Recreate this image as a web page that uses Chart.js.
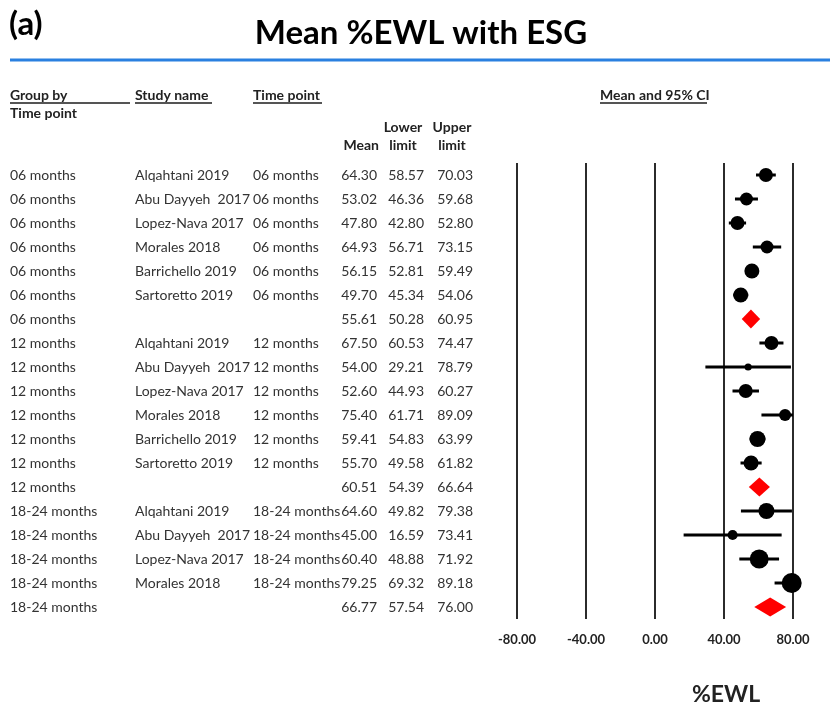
<!DOCTYPE html>
<html>
<head>
<meta charset="utf-8">
<script src="https://cdn.jsdelivr.net/npm/chart.js@4.4.0/dist/chart.umd.min.js"></script>
<style>
  body { margin: 0; background: #fff; }
  canvas { display: block; }
</style>
</head>
<body>
<canvas id="chart" width="830" height="708"></canvas>
<script>
// table rows, top to bottom (summary rows have no study name)
var groups = ['06 months', '06 months', '06 months', '06 months', '06 months', '06 months', '06 months',
  '12 months', '12 months', '12 months', '12 months', '12 months', '12 months', '12 months',
  '18-24 months', '18-24 months', '18-24 months', '18-24 months', '18-24 months'];
var studies = ['Alqahtani 2019', 'Abu Dayyeh  2017', 'Lopez-Nava 2017', 'Morales 2018', 'Barrichello 2019', 'Sartoretto 2019', '',
  'Alqahtani 2019', 'Abu Dayyeh  2017', 'Lopez-Nava 2017', 'Morales 2018', 'Barrichello 2019', 'Sartoretto 2019', '',
  'Alqahtani 2019', 'Abu Dayyeh  2017', 'Lopez-Nava 2017', 'Morales 2018', ''];
var timePoints = ['06 months', '06 months', '06 months', '06 months', '06 months', '06 months', '',
  '12 months', '12 months', '12 months', '12 months', '12 months', '12 months', '',
  '18-24 months', '18-24 months', '18-24 months', '18-24 months', ''];
var means = [64.30, 53.02, 47.80, 64.93, 56.15, 49.70, 55.61,
  67.50, 54.00, 52.60, 75.40, 59.41, 55.70, 60.51,
  64.60, 45.00, 60.40, 79.25, 66.77];
var lowerLimits = [58.57, 46.36, 42.80, 56.71, 52.81, 45.34, 50.28,
  60.53, 29.21, 44.93, 61.71, 54.83, 49.58, 54.39,
  49.82, 16.59, 48.88, 69.32, 57.54];
var upperLimits = [70.03, 59.68, 52.80, 73.15, 59.49, 54.06, 60.95,
  74.47, 78.79, 60.27, 89.09, 63.99, 61.82, 66.64,
  79.38, 73.41, 71.92, 89.18, 76.00];
// relative study weights, null for summaries
var weights = [19, 16.5, 19, 16.5, 22, 22, null,
  19, 5, 19, 14, 25, 22, null,
  25, 10, 35, 39, null];

var font = 'Lato, "Open Sans", sans-serif';

var pointData = [], pointRadius = [], ciData = [], diamondSets = [];
for (var i = 0; i < means.length; i++) {
  if (studies[i]) {
    pointData.push({x: means[i], y: i});
    pointRadius.push(1.6 * Math.sqrt(weights[i]));
    ciData.push({x: lowerLimits[i], y: i}, {x: upperLimits[i], y: i}, {x: null, y: null});
  } else {
    diamondSets.push({
      type: 'line',
      data: [{x: lowerLimits[i], y: i}, {x: means[i], y: i - 0.4}, {x: upperLimits[i], y: i},
             {x: means[i], y: i + 0.4}, {x: lowerLimits[i], y: i}],
      showLine: true,
      borderWidth: 0,
      borderColor: 'red',
      backgroundColor: '#ff0000',
      fill: 'shape',
      pointRadius: 0,
      tension: 0,
      clip: false
    });
  }
}

var tablePlugin = {
  id: 'table',
  afterDraw: function (chart) {
    var ctx = chart.ctx, y = chart.scales.y;
    ctx.save();
    ctx.textBaseline = 'middle';
    ctx.fillStyle = '#000';
    ctx.font = 'bold 33px ' + font;
    ctx.textAlign = 'left';
    ctx.fillText('(a)', 9, 24);
    ctx.font = 'bold 33px ' + font;
    ctx.textAlign = 'center';
    ctx.fillText('Mean %EWL with ESG', 421, 33);
    ctx.strokeStyle = '#2a80e0';
    ctx.lineWidth = 3;
    ctx.beginPath(); ctx.moveTo(10, 60); ctx.lineTo(830, 60); ctx.stroke();

    ctx.font = 'bold 14px ' + font;
    ctx.fillStyle = '#222';
    ctx.textAlign = 'left';
    ctx.fillText('Group by', 10, 95);
    ctx.fillText('Time point', 10, 113);
    ctx.fillText('Study name', 135, 95);
    ctx.fillText('Time point', 253, 95);
    ctx.fillText('Mean and 95% CI', 600, 95);
    ctx.strokeStyle = '#555';
    ctx.lineWidth = 2;
    [[10, 130], [135, 212], [253, 322], [600, 707]].forEach(function (u) {
      ctx.beginPath(); ctx.moveTo(u[0], 103); ctx.lineTo(u[1], 103); ctx.stroke();
    });
    ctx.textAlign = 'center';
    ctx.fillText('Lower', 403, 127);
    ctx.fillText('Upper', 452, 127);
    ctx.fillText('limit', 403, 145);
    ctx.fillText('limit', 452, 145);
    ctx.textAlign = 'right';
    ctx.fillText('Mean', 379, 145);

    ctx.font = '14px ' + font;
    ctx.fillStyle = '#333';
    for (var i = 0; i < means.length; i++) {
      var py = y.getPixelForValue(i);
      ctx.textAlign = 'left';
      ctx.fillText(groups[i], 10, py);
      ctx.fillText(studies[i], 135, py);
      ctx.fillText(timePoints[i], 253, py);
      ctx.textAlign = 'right';
      ctx.fillText(means[i].toFixed(2), 377, py);
      ctx.fillText(lowerLimits[i].toFixed(2), 424, py);
      ctx.fillText(upperLimits[i].toFixed(2), 473, py);
    }

    ctx.font = 'bold 23px ' + font;
    ctx.fillStyle = '#222';
    ctx.textAlign = 'center';
    ctx.fillText('%EWL', 726, 695);
    ctx.restore();
  }
};

new Chart('chart', {
  type: 'scatter',
  data: {
    datasets: [{
      data: pointData,
      pointRadius: pointRadius,
      pointHoverRadius: pointRadius,
      backgroundColor: '#000',
      borderWidth: 0,
      clip: false
    }, {
      type: 'line',
      data: ciData,
      showLine: true,
      borderColor: '#000',
      borderWidth: 3,
      pointRadius: 0,
      tension: 0,
      spanGaps: false,
      clip: 0
    }].concat(diamondSets)
  },
  options: {
    responsive: false,
    animation: false,
    layout: {padding: {left: 517, right: 37, top: 163, bottom: 0}},
    plugins: {legend: {display: false}, tooltip: {enabled: false}},
    scales: {
      x: {
        type: 'linear',
        min: -80,
        max: 80,
        border: {display: false},
        grid: {color: '#2b2b2b', lineWidth: 2, drawTicks: false},
        ticks: {
          stepSize: 40,
          padding: 13,
          color: '#222',
          font: {family: font, size: 13, weight: 'bold'},
          callback: function (v) { return v.toFixed(2); }
        },
        afterFit: function (scale) { scale.height = 89; }
      },
      y: {
        type: 'linear',
        display: false,
        reverse: true,
        min: -0.5,
        max: 18.5
      }
    }
  },
  plugins: [tablePlugin]
});
</script>
</body>
</html>
